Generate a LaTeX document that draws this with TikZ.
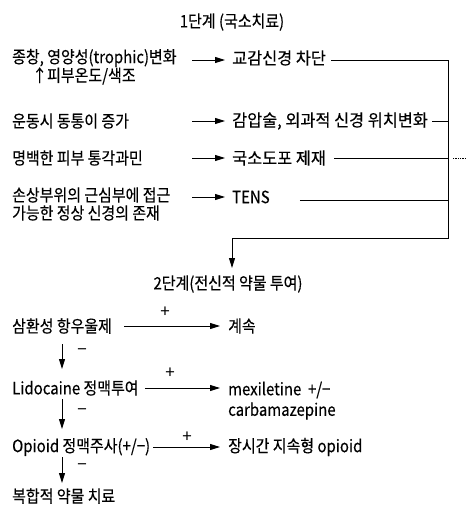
\documentclass[tikz,border=0pt]{standalone}
\usepackage{fontspec}
\setmainfont{Noto Sans CJK KR}[FakeStretch=0.88,FakeBold=0.3]
\newfontfamily\widekr{Noto Sans CJK KR}[FakeStretch=0.96,FakeBold=0.3]
\newfontfamily\signfont{Noto Sans CJK KR}
\usetikzlibrary{arrows.meta}
\tikzset{
  txt/.style={anchor=west, inner sep=0pt, font=\fontsize{17}{19}\selectfont},
  wtxt/.style={anchor=west, inner sep=0pt, font=\widekr\fontsize{17}{19}\selectfont},
  ctxt/.style={anchor=center, inner sep=0pt, font=\fontsize{17}{19}\selectfont},
  sgn/.style={anchor=center, inner sep=0pt, font=\signfont\fontsize{17}{19}\selectfont},
  arr/.style={line width=0.9pt, -{Triangle[length=10pt,width=6pt]}},
  ln/.style={line width=0.9pt},
}
\begin{document}
\begin{tikzpicture}[x=1pt,y=-1pt]
\useasboundingbox (0,0) rectangle (465,513);
% stage 1
\node[ctxt] (t1) at (232,22) {1단계 (국소치료)};
\node[txt] (a1) at (12,58) {종창, 영양성(trophic)변화};
\node[txt] (a1b) at (32,76) {↑피부온도/색조};
\node[txt] (a2) at (12,121) {운동시 동통이 증가};
\node[txt] (a3) at (12,158) {명백한 피부 통각과민};
\node[txt] (a4) at (12,195) {손상부위의 근심부에 접근};
\node[txt] (a4b) at (12,213) {가능한 정상 신경의 존재};
\node[wtxt] (b1) at (232,58) {교감신경 차단};
\node[wtxt] (b2) at (232,121) {감압술, 외과적 신경 위치변화};
\node[wtxt] (b3) at (232,158) {국소도포 제재};
\node[txt] (b4) at (232,197) {TENS};
\coordinate (s1) at (192,60);
\coordinate (s2) at (192,121);
\coordinate (s3) at (192,158);
\coordinate (s4) at (192,197);
\draw[arr] (s1) -- ([xshift=-7pt]b1.west |- s1);
\draw[arr] (s2) -- ([xshift=-7pt]b2.west |- s2);
\draw[arr] (s3) -- ([xshift=-7pt]b3.west |- s3);
\draw[arr] (s4) -- ([xshift=-7pt]b4.west |- s4);
\coordinate (v1) at (448,60);
\coordinate (v2) at (448,121);
\coordinate (v3) at (448,158);
\coordinate (v4) at (448,200);
\coordinate (v5) at (448,238);
\coordinate (c5) at (232,238);
\coordinate (tail) at (465,158);
\coordinate (t2top) at (232,268);
\draw[ln] ([xshift=5pt]b1.east |- v1) -- (v1) -- (v5) -- (c5);
\draw[ln] ([xshift=4pt]b2.east |- v2) -- (v2);
\draw[ln] ([xshift=8pt]b3.east |- v3) -- (v3);
\draw[line width=0.7pt, densely dotted] ([xshift=5pt]v3) -- (tail);
\draw[ln] ([xshift=30pt]b4.east |- v4) -- (v4);
% stage 2
\node[ctxt] (t2) at (228,284) {2단계(전신적 약물 투여)};
\draw[arr] (c5) -- (t2top);
\node[txt] (d1) at (12,326) {삼환성 항우울제};
\node[txt] (e1) at (228,326) {계속};
\node[txt] (d2) at (12,388) {Lidocaine 정맥투여};
\node[txt] (e2) at (228,390) {mexiletine \ +/−};
\node[txt] (e2b) at (228,411) {carbamazepine};
\node[txt] (d3) at (12,447) {Opioid 정맥주사(+/−)};
\node[txt] (e3) at (228,447) {장시간 지속형 opioid};
\node[txt] (d4) at (12,496) {복합적 약물 치료};
\draw[arr] ([xshift=12pt]d1.east |- e1) -- ([xshift=-8pt]e1.west);
\draw[arr] ([xshift=6pt]d2.east |- d2) -- ([xshift=-8pt]e2.west |- d2);
\draw[arr] ([xshift=3pt]d3.east) -- ([xshift=-8pt]e3.west);
\node[sgn] (p1) at (165,312) {+};
\node[sgn] (p2) at (170,373) {+};
\node[sgn] (p3) at (187,437) {+};
\coordinate (x1) at (62,344);
\coordinate (y1) at (62,369);
\coordinate (x2) at (62,399);
\coordinate (y2) at (62,429);
\coordinate (x3) at (62,457);
\coordinate (y3) at (62,483);
\draw[arr] (x1) -- (y1);
\draw[arr] (x2) -- (y2);
\draw[arr] (x3) -- (y3);
\node[sgn] (m1) at (82,352) {−};
\node[sgn] (m2) at (82,412) {−};
\node[sgn] (m3) at (82,467) {−};
\end{tikzpicture}
\end{document}
